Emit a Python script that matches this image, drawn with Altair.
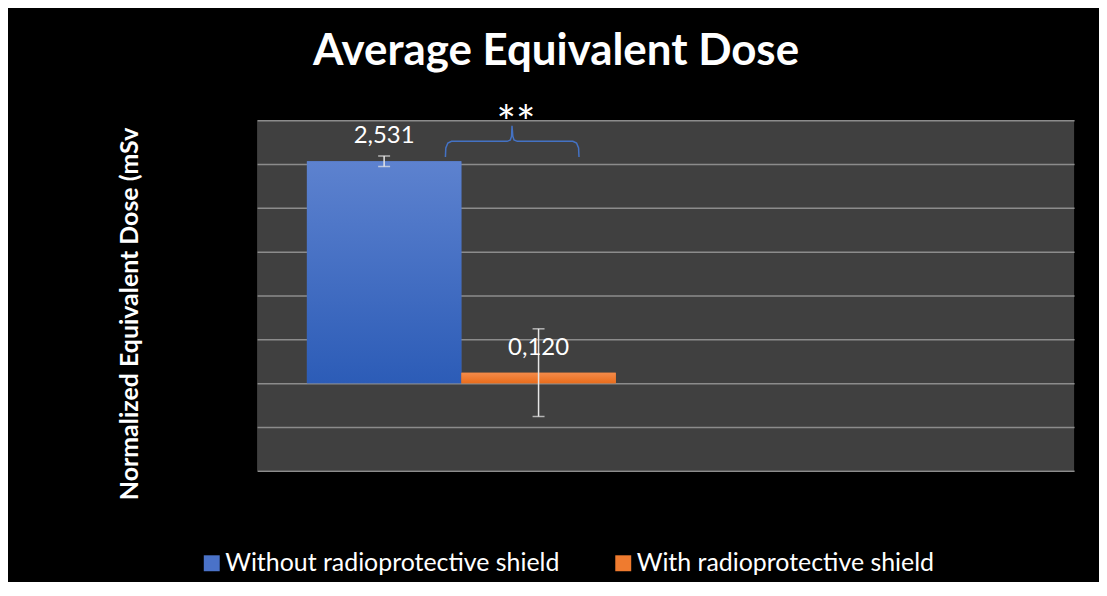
import altair as alt
import pandas as pd

# ---- data ----
categories = ["Group 1", "Group 2"]
series = ["Without radioprotective shield", "With radioprotective shield"]
groups = ["Group 1", "Group 1"]
values = [2.531, 0.120]
errors = [0.06, 0.50]
solid_colors = ["#4a72c8", "#ef7b2f"]
grad_top = ["#5d82cf", "#f48b4a"]
grad_bottom = ["#2c5cb7", "#ea6d1c"]
y_ticks = [-1, -0.5, 0, 0.5, 1, 1.5, 2, 2.5, 3]

# significance brace (x in category units 0..2, y in data units)
brace_x = [0.461, 0.462, 0.467, 0.476, 0.612, 0.620, 0.623, 0.624,
           0.626, 0.629, 0.637, 0.773, 0.782, 0.787, 0.788]
brace_y = [2.580, 2.682, 2.739, 2.758, 2.758, 2.773, 2.818, 2.935,
           2.818, 2.773, 2.758, 2.758, 2.739, 2.682, 2.580]
stars_x = [0.634]
stars_y = [2.79]
stars_text = ["**"]

df = pd.DataFrame({
    "group": groups,
    "series": series,
    "value": values,
    "err": errors,
})
df["lo"] = df["value"] - df["err"]
df["hi"] = df["value"] + df["err"]
df["label"] = [f"{v:.3f}".replace(".", ",") for v in values]

brace_df = pd.DataFrame({"bx": brace_x, "by": brace_y, "i": list(range(len(brace_x)))})
stars_df = pd.DataFrame({"sx": stars_x, "sy": stars_y, "t": stars_text})

FONT = "Lato"

yaxis = alt.Axis(
    values=y_ticks, labels=False, ticks=False, domain=False, grid=True,
    gridColor="#8c8c8c", gridWidth=1.5,
    title="Normalized Equivalent Dose (mSv", titleColor="white", titleFont=FONT,
    titleFontWeight="bold", titleFontSize=25, titleAngle=-90, titleX=-128,
    titleY=194, titleAlign="center", titleBaseline="middle",
)
yscale = alt.Scale(domain=[-1, 3], nice=False, zero=False)

xenc = alt.X("group:N", scale=alt.Scale(domain=categories, paddingInner=0, paddingOuter=0), axis=None)
xoff = alt.XOffset("series:N", scale=alt.Scale(domain=series, paddingInner=0, paddingOuter=0.3226))

base = alt.Chart(df)

bars = base.mark_bar().encode(
    x=xenc, xOffset=xoff,
    y=alt.Y("value:Q", scale=yscale, axis=yaxis),
    y2=alt.datum(0),
    color=alt.Color("series:N", scale=alt.Scale(domain=series, range=solid_colors),
                    legend=alt.Legend(orient="none", legendX=-58, legendY=432,
                                      direction="horizontal", symbolType="square",
                                      symbolSize=256, symbolStrokeWidth=0,
                                      labelFontSize=25, labelColor="white", labelFont=FONT,
                                      labelLimit=0, columnPadding=51, labelOffset=1,
                                      title=None, padding=0)),
)

grad_layers = []
for s, top, bot in zip(series, grad_top, grad_bottom):
    grad_layers.append(
        base.transform_filter(alt.datum.series == s).mark_bar(
            color=alt.LinearGradient(
                gradient="linear",
                stops=[alt.GradientStop(color=top, offset=0), alt.GradientStop(color=bot, offset=1)],
                x1=0, x2=0, y1=0, y2=1,
            )
        ).encode(x=xenc, xOffset=xoff, y=alt.Y("value:Q", scale=yscale, axis=yaxis), y2=alt.datum(0))
    )

err_rule = base.mark_rule(color="#e6e6e6", strokeWidth=1.5).encode(
    x=xenc, xOffset=xoff,
    y=alt.Y("lo:Q", scale=yscale, axis=yaxis), y2="hi:Q",
)
cap_lo = base.mark_tick(color="#e6e6e6", size=12, thickness=1.5).encode(
    x=xenc, xOffset=xoff, y=alt.Y("lo:Q", scale=yscale, axis=yaxis))
cap_hi = base.mark_tick(color="#e6e6e6", size=12, thickness=1.5).encode(
    x=xenc, xOffset=xoff, y=alt.Y("hi:Q", scale=yscale, axis=yaxis))

labels = base.mark_text(font=FONT, fontSize=24, color="white", dy=-18,
                        baseline="alphabetic", align="center").encode(
    x=xenc, xOffset=xoff, y=alt.Y("value:Q", scale=yscale, axis=yaxis), text="label:N")

qx = alt.Scale(domain=[0, 2], nice=False, zero=False)
brace = alt.Chart(brace_df).mark_line(color="#4472c4", strokeWidth=1.5).encode(
    x=alt.X("bx:Q", scale=qx, axis=None),
    y=alt.Y("by:Q", scale=yscale, axis=yaxis),
    order="i:Q",
)
stars = alt.Chart(stars_df).mark_text(font=FONT, fontSize=46, color="white",
                                      baseline="alphabetic", align="center").encode(
    x=alt.X("sx:Q", scale=qx, axis=None),
    y=alt.Y("sy:Q", scale=yscale, axis=yaxis),
    text="t:N",
)

chart = alt.layer(bars, *grad_layers, err_rule, cap_lo, cap_hi, labels, brace, stars).resolve_scale(
    x="independent"
).properties(
    width=820, height=352,
    background="black",
    padding={"left": 250, "top": 111.5, "right": 25, "bottom": 110},
    autosize=alt.AutoSizeParams(type="none"),
    title=alt.TitleParams("Average Equivalent Dose", font=FONT, fontSize=44, fontWeight="bold",
                          color="white", anchor="middle", dx=-110, offset=28),
).configure_view(fill="#404040", stroke=None)

chart.save("out.html", embed_options={"renderer": "svg", "actions": False})
